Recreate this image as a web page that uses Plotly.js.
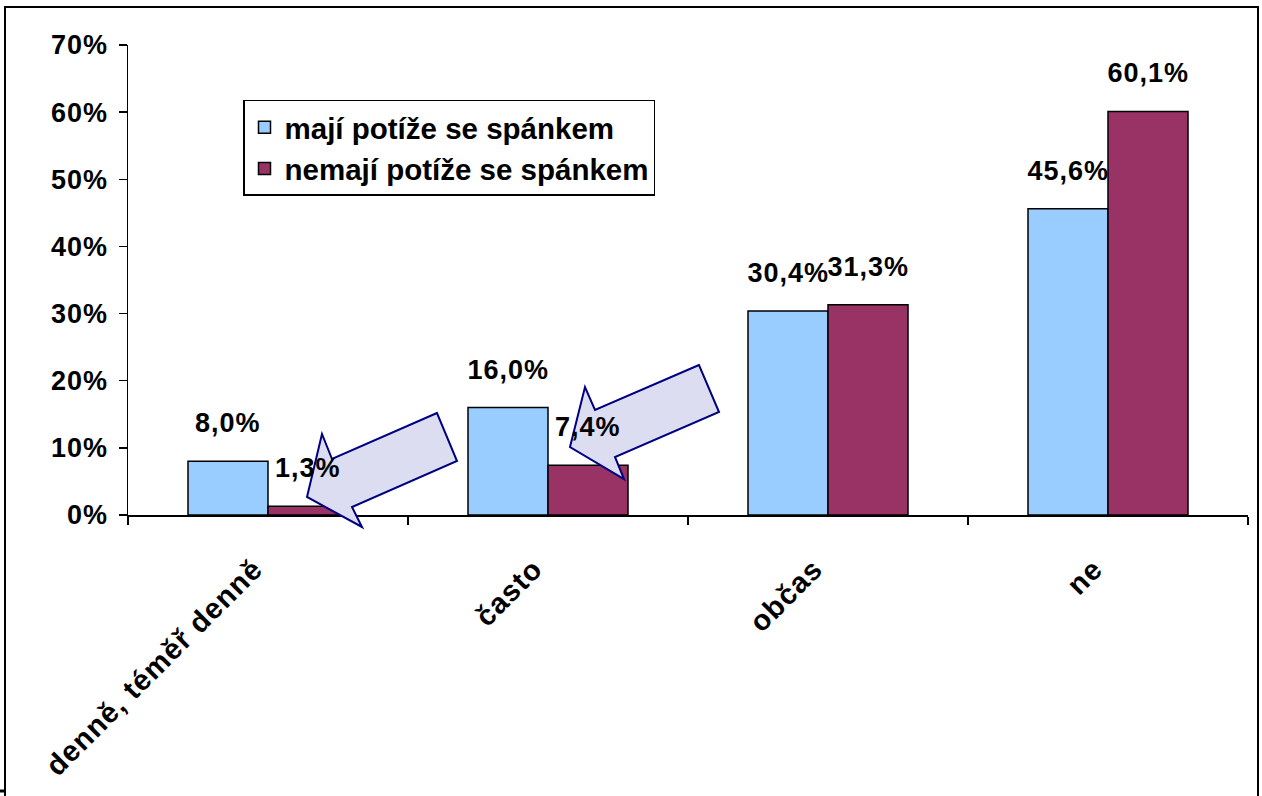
<!DOCTYPE html>
<html>
<head>
<meta charset="utf-8">
<script src="https://cdn.plot.ly/plotly-3.0.1.min.js"></script>
<style>
html,body{margin:0;padding:0;background:#fff;}
#chart{width:1262px;height:796px;}
#chart .xtick text, #chart .ytick text, #chart .annotation-text{letter-spacing:1px;}
</style>
</head>
<body>
<div id="chart"></div>
<script>
const categories = ["denně, téměř denně", "často", "občas", "ne"];
const seriesNames = ["mají potíže se spánkem", "nemají potíže se spánkem"];
const withProblems = [0.080, 0.160, 0.304, 0.456];
const withoutProblems = [0.013, 0.074, 0.313, 0.601];
const yTicks = [0, 0.1, 0.2, 0.3, 0.4, 0.5, 0.6, 0.7];
const yTickLabels = ["0%", "10%", "20%", "30%", "40%", "50%", "60%", "70%"];

const FONT = "Liberation Sans, Arial, sans-serif";
const W = 1262, H = 796;
const M = {l: 128, r: 14, t: 45, b: 281};
const PW = W - M.l - M.r, PH = H - M.t - M.b;
function px(x) { return ((x - M.l) / PW).toFixed(5); }
function py(y) { return ((H - M.b - y) / PH).toFixed(5); }
function poly(pts) {
  return "M" + pts.map(p => px(p[0]) + "," + py(p[1])).join(" L") + " Z";
}
function fmt(v) { return (v * 100).toFixed(1).replace(".", ",") + "%"; }
function f(size) { return {family: FONT, size: size, color: "#000", weight: "bold"}; }

const traces = [
  {type: "bar", name: seriesNames[0], x: categories, y: withProblems,
   marker: {color: "#99CCFF", line: {color: "#000", width: 1.5}},
   legendgroup: "a", hoverinfo: "skip"},
  {type: "bar", name: seriesNames[1], x: categories, y: withoutProblems,
   marker: {color: "#993366", line: {color: "#000", width: 1.5}},
   legendgroup: "b", hoverinfo: "skip"}
];

const annotations = [];
categories.forEach((c, i) => {
  annotations.push({x: c, y: withProblems[i], xref: "x", yref: "y", text: fmt(withProblems[i]),
    showarrow: false, xshift: -40, yshift: 38, yanchor: "middle", font: f(27)});
  annotations.push({x: c, y: withoutProblems[i], xref: "x", yref: "y", text: fmt(withoutProblems[i]),
    showarrow: false, xshift: 40, yshift: 38, yanchor: "middle", font: f(27)});
});

const arrowStyle = {fillcolor: "#DDDDF1", line: {color: "#000080", width: 2}};
const shapes = [
  {type: "rect", xref: "paper", yref: "paper", x0: px(5), x1: px(1258), y0: py(805), y1: py(7),
   line: {color: "#000", width: 2}, fillcolor: "rgba(0,0,0,0)", layer: "below"},
  {type: "line", xref: "paper", yref: "paper", x0: px(0), x1: px(5), y0: py(791), y1: py(791),
   line: {color: "#000", width: 3}},
  Object.assign({type: "path", xref: "paper", yref: "paper", layer: "above",
    path: poly([[437,413],[332,459],[322,434],[307,497],[362,527],[352,507],[457,461]])}, arrowStyle),
  Object.assign({type: "path", xref: "paper", yref: "paper", layer: "above",
    path: poly([[699,365],[595,410],[585,387],[570,447],[624,479],[615,457],[719,412]])}, arrowStyle)
];

const layout = {
  width: W, height: H,
  margin: M,
  paper_bgcolor: "#fff", plot_bgcolor: "#fff",
  font: f(27),
  barmode: "group", bargap: 0.4286, bargroupgap: 0,
  showlegend: true,
  legend: {x: px(243), y: py(100), xanchor: "left", yanchor: "top",
    bgcolor: "#fff", bordercolor: "#000", borderwidth: 1.5,
    font: f(29.5), tracegroupgap: 6, traceorder: "normal"},
  xaxis: {type: "category", showline: true, linecolor: "#000", linewidth: 1.5,
    ticks: "outside", ticklen: 8, tickwidth: 1.5, tickcolor: "#000", tickson: "boundaries",
    tickangle: -45, showgrid: false, zeroline: false, fixedrange: true,
    ticklabelstandoff: 24, ticklabelshift: -14, tickfont: f(29)},
  yaxis: {range: [0, 0.7], tickvals: yTicks, ticktext: yTickLabels, showline: true,
    linecolor: "#000", linewidth: 1.5, ticks: "outside", ticklen: 8, tickwidth: 1.5,
    tickcolor: "#000", showgrid: false, zeroline: false, ticklabelstandoff: 5, fixedrange: true,
    tickfont: f(27)},
  annotations: annotations,
  shapes: shapes
};

Plotly.newPlot("chart", traces, layout, {displayModeBar: false, staticPlot: true});
</script>
</body>
</html>
